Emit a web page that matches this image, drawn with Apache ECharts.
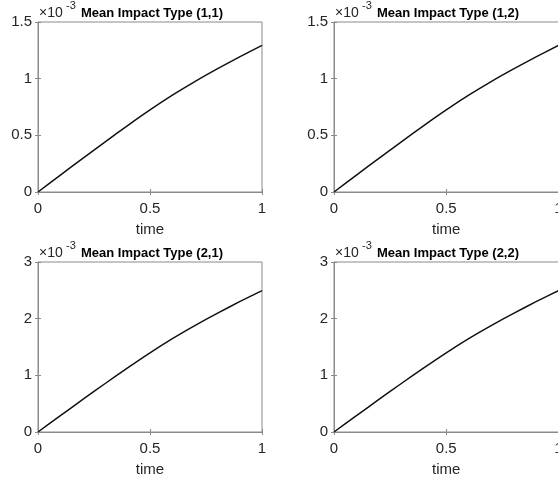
<!DOCTYPE html>
<html>
<head>
<meta charset="utf-8">
<script src="https://cdn.jsdelivr.net/npm/echarts@6/dist/echarts.min.js"></script>
<style>
html,body{margin:0;padding:0;background:#fff;}
#chart{width:558px;height:481px;}
</style>
</head>
<body>
<div id="chart"></div>
<script>
// ---- data (values in units of 1e-3) ----
var time = [0, 0.1, 0.2, 0.3, 0.4, 0.5, 0.6, 0.7, 0.8, 0.9, 1.0];
var impact11 = [0, 0.149, 0.297, 0.443, 0.586, 0.724, 0.854, 0.974, 1.086, 1.192, 1.294];
var impact12 = [0, 0.149, 0.297, 0.443, 0.586, 0.724, 0.854, 0.974, 1.086, 1.192, 1.294];
var impact21 = [0, 0.288, 0.574, 0.856, 1.132, 1.398, 1.648, 1.878, 2.094, 2.300, 2.495];
var impact22 = [0, 0.288, 0.574, 0.856, 1.132, 1.398, 1.648, 1.878, 2.094, 2.300, 2.495];
var titles = ['Mean Impact Type (1,1)', 'Mean Impact Type (1,2)', 'Mean Impact Type (2,1)', 'Mean Impact Type (2,2)'];
var xTicks = [0, 0.5, 1];
var yMaxTop = 1.5, yIntTop = 0.5;
var yMaxBottom = 3, yIntBottom = 1;
var exponentBase = '×10';
var exponentPow = '-3';
var xName = 'time';

var seriesData = [impact11, impact12, impact21, impact22];

var FONT = '"Liberation Sans", Arial, Helvetica, sans-serif';
var AXC = '#8a8a8a';
var TXC = '#262626';

var panels = [
  {left: 38,  top: 22,  width: 224,   height: 170, ymax: yMaxTop, yint: yIntTop},
  {left: 334, top: 22,  width: 224.5, height: 170, ymax: yMaxTop, yint: yIntTop},
  {left: 38,  top: 262, width: 224,   height: 170, ymax: yMaxBottom, yint: yIntBottom},
  {left: 334, top: 262, width: 224.5, height: 170, ymax: yMaxBottom, yint: yIntBottom}
];

var grid = [], xAxis = [], yAxis = [], series = [], graphic = [];

panels.forEach(function (p, i) {
  grid.push({
    left: p.left, top: p.top, width: p.width, height: p.height,
    show: true, borderColor: AXC, borderWidth: 1, backgroundColor: '#fff',
    containLabel: false, outerBoundsMode: 'none'
  });
  // main x axis (bottom)
  xAxis.push({
    type: 'value', gridIndex: i, position: 'bottom',
    min: xTicks[0], max: xTicks[xTicks.length - 1], interval: xTicks[1] - xTicks[0],
    axisLine: {show: true, lineStyle: {color: AXC, width: 1}},
    axisTick: {show: true, inside: true, length: 3, lineStyle: {color: AXC}},
    axisLabel: {show: true, margin: 9, color: TXC, fontSize: 15, fontFamily: FONT},
    splitLine: {show: false},
    name: xName, nameLocation: 'middle', nameGap: 30,
    nameTextStyle: {color: TXC, fontSize: 15, fontFamily: FONT}
  });
  // mirrored x axis (top) for ticks only
  xAxis.push({
    type: 'value', gridIndex: i, position: 'top',
    min: xTicks[0], max: xTicks[xTicks.length - 1], interval: xTicks[1] - xTicks[0],
    axisLine: {show: false},
    axisTick: {show: true, inside: true, length: 3, lineStyle: {color: AXC}},
    axisLabel: {show: false},
    splitLine: {show: false}
  });
  yAxis.push({
    type: 'value', gridIndex: i, position: 'left',
    min: 0, max: p.ymax, interval: p.yint,
    axisLine: {show: true, lineStyle: {color: AXC, width: 1}},
    axisTick: {show: true, inside: true, length: 3, lineStyle: {color: AXC}},
    axisLabel: {show: true, margin: 6, color: TXC, fontSize: 15, fontFamily: FONT},
    splitLine: {show: false}
  });
  yAxis.push({
    type: 'value', gridIndex: i, position: 'right',
    min: 0, max: p.ymax, interval: p.yint,
    axisLine: {show: false},
    axisTick: {show: true, inside: true, length: 3, lineStyle: {color: AXC}},
    axisLabel: {show: false},
    splitLine: {show: false}
  });
  var vals = seriesData[i];
  series.push({
    type: 'line',
    xAxisIndex: 2 * i, yAxisIndex: 2 * i,
    data: time.map(function (t, k) { return [t, vals[k]]; }),
    smooth: 0.2,
    showSymbol: false, symbol: 'none',
    lineStyle: {color: '#111', width: 1.5},
    silent: true, animation: false
  });
  // exponent label and title
  graphic.push({
    type: 'text',
    x: p.left + 1, y: 13.5 + (p.top - 22),
    style: {text: exponentBase, fill: TXC, font: '14px ' + FONT, textAlign: 'left', textVerticalAlign: 'middle'},
    silent: true
  });
  graphic.push({
    type: 'text',
    x: p.left + 28, y: 6 + (p.top - 22),
    style: {text: exponentPow, fill: TXC, font: '11px ' + FONT, textAlign: 'left', textVerticalAlign: 'middle'},
    silent: true
  });
  graphic.push({
    type: 'text',
    x: p.left + 114, y: 13 + (p.top - 22),
    style: {text: titles[i], fill: '#000', font: 'bold 13px ' + FONT, textAlign: 'center', textVerticalAlign: 'middle'},
    silent: true
  });
});

var chart = echarts.init(document.getElementById('chart'), null, {renderer: 'canvas'});
chart.setOption({
  backgroundColor: '#fff',
  animation: false,
  grid: grid,
  xAxis: xAxis,
  yAxis: yAxis,
  series: series,
  graphic: graphic
});
</script>
</body>
</html>
